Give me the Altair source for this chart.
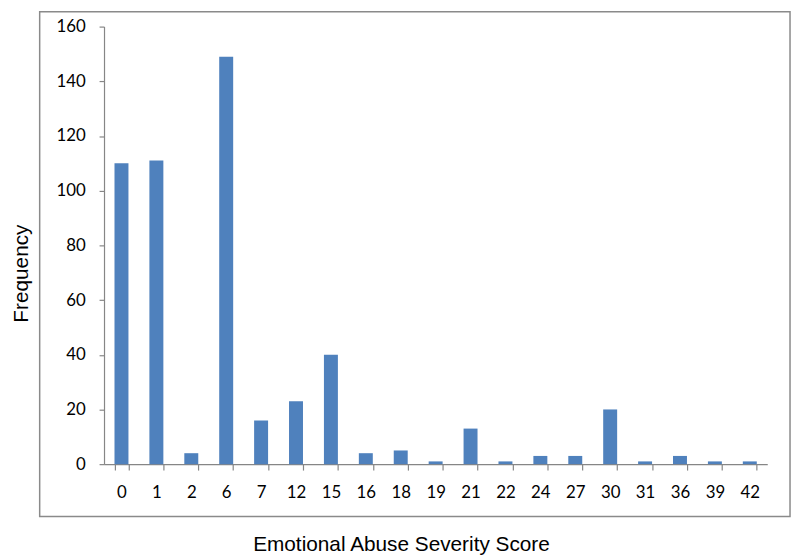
import altair as alt
import pandas as pd

scores = ["0", "1", "2", "6", "7", "12", "15", "16", "18", "19", "21", "22",
          "24", "27", "30", "31", "36", "39", "42"]
freq = [110, 111, 4, 149, 16, 23, 40, 4, 5, 1, 13, 1, 3, 3, 20, 1, 3, 1, 1]

df = pd.DataFrame({"score": scores, "freq": freq})

frame = alt.Chart(alt.Data(values=[{"a": 1}])).mark_rect(
    fillOpacity=0, stroke="#8a8a8a", strokeWidth=1.5
).encode(
    x=alt.value(-65), x2=alt.value(693), y=alt.value(-15), y2=alt.value(495)
)

bars = alt.Chart(df).mark_bar(color="#4F81BD").encode(
    x=alt.X("score:N", sort=scores,
            scale=alt.Scale(paddingInner=0.6, paddingOuter=0.3),
            axis=alt.Axis(title="Emotional Abuse Severity Score", labelAngle=0,
                          tickBand="extent", tickSize=6, labelPadding=15,
                          titleX=300, titleY=87, titleBaseline="alphabetic",
                          titleAlign="center", titleAnchor="start")),
    y=alt.Y("freq:Q", scale=alt.Scale(domain=[0, 160], nice=False),
            axis=alt.Axis(title="Frequency", values=list(range(0, 161, 20)),
                          tickSize=5, labelPadding=14, grid=False,
                          titleX=-77, titleY=249, titleBaseline="alphabetic",
                          titleAlign="center", titleAnchor="start", titleAngle=-90)),
)

chart = alt.layer(frame, bars).properties(
    width=670, height=442,
    background="white",
    autosize=alt.AutoSizeParams(type="none"),
    padding={"left": 97, "top": 16, "right": 25, "bottom": 90},
).configure_view(stroke=None).configure_axis(
    domainColor="#868686", tickColor="#868686", domainWidth=1.2, tickWidth=1.2,
    labelFont="Lato", labelFontSize=17, labelColor="#000000",
    titleFont="Liberation Sans", titleFontSize=21, titleFontWeight="normal",
    titleColor="#000000", grid=False, zindex=1
)

chart.save("out.html", embed_options={"renderer": "svg", "actions": False})
